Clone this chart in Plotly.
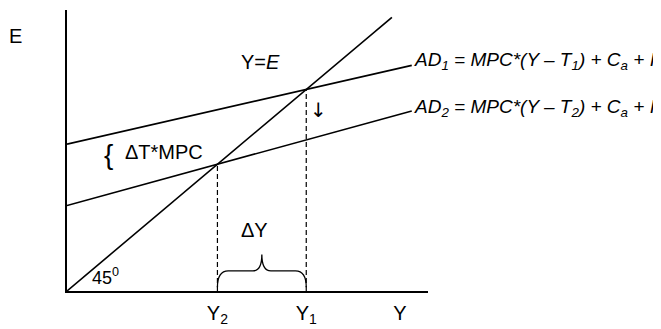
import plotly.graph_objects as go

# Keynesian cross: a tax rise shifts AD down (AD1 -> AD2)
line_x = [0.0, 9.55]
ad1_y = [4.83, 7.42]
ad2_y = [2.81, 5.92]
diag_x = [0.0, 9.0]
diag_y = [0.0, 9.0]

tick_vals = [None, None, 9.22]  # Y2 and Y1 filled in from the intersections
tick_text = ["Y<sub>2</sub>", "Y<sub>1</sub>", "Y"]


def meet_diagonal(ys):
    # where an AD line crosses the 45 degree line
    slope = (ys[1] - ys[0]) / (line_x[1] - line_x[0])
    x = ys[0] / (1 - slope)
    return x, ys[0] + slope * x


y1, e1 = meet_diagonal(ad1_y)
y2, e2 = meet_diagonal(ad2_y)
tick_vals[0], tick_vals[1] = y2, y1

black = dict(color="black", width=1.6)
fig = go.Figure()
fig.add_trace(go.Scatter(x=line_x, y=ad1_y, mode="lines", line=black))
fig.add_trace(go.Scatter(x=line_x, y=ad2_y, mode="lines", line=black))
fig.add_trace(go.Scatter(x=diag_x, y=diag_y, mode="lines", line=black))
for xv, ev in [(y1, e1), (y2, e2)]:
    fig.add_trace(go.Scatter(x=[xv, xv], y=[0, ev], mode="lines",
                             line=dict(color="black", width=1.2, dash="5px,3px")))

# curly brace under the dashed lines
mid = (y1 + y2) / 2
lo, hz, tip = 0.12, 0.66, 1.2
brace = (f"M {y2},{lo} Q {y2},{hz} {y2 + 0.3},{hz} L {mid - 0.25},{hz} "
         f"Q {mid},{hz} {mid},{tip} Q {mid},{hz} {mid + 0.25},{hz} "
         f"L {y1 - 0.3},{hz} Q {y1},{hz} {y1},{lo}")
fig.add_shape(type="path", path=brace, xref="x", yref="y",
              line=dict(color="black", width=1.3))

font = dict(family="Liberation Sans, Arial, sans-serif", size=20, color="black")
italic = dict(family="Liberation Sans, Arial, sans-serif", size=19, color="black")


def label(x, y, text, f=font, anchor="center"):
    fig.add_annotation(x=x, y=y, text=text, showarrow=False, font=f,
                       xanchor=anchor, yanchor="middle")


label(5.35, 7.52, "Y=<i>E</i>")
label(9.57, 7.55, "<i>AD<sub>1</sub> = MPC*(Y – T<sub>1</sub>) + C<sub>a</sub> + I</i>",
      italic, "left")
label(9.57, 6.02, "<i>AD<sub>2</sub> = MPC*(Y – T<sub>2</sub>) + C<sub>a</sub> + I</i>",
      italic, "left")
label(6.97, 5.96, "↓", dict(font, family="DejaVu Sans", size=20))
label(2.69, 4.56, "ΔT*MPC")
label(1.16, 4.5, "{", dict(font, size=28))
label(5.2, 1.99, "ΔY")
label(1.08, 0.49, "45<sup>0</sup>", dict(font, size=18))
fig.add_annotation(x=-0.144, y=0.907, xref="paper", yref="paper", text="E",
                   showarrow=False, font=font, xanchor="center", yanchor="middle")

# the page body has an 8px margin, so the figure is shrunk and shifted to fit
fig.update_layout(
    width=653, height=321,
    margin=dict(l=59, r=233, t=2, b=17),
    plot_bgcolor="white", paper_bgcolor="white",
    showlegend=False,
    xaxis=dict(range=[0, 10], showgrid=False, zeroline=False, showline=True,
               linecolor="black", linewidth=1.5, tickvals=tick_vals, ticktext=tick_text,
               ticks="", tickfont=font, ticklabelstandoff=3),
    yaxis=dict(range=[0, 9.24], showgrid=False, zeroline=False, showline=True,
               linecolor="black", linewidth=1.5, showticklabels=False, ticks=""),
)
fig.write_html("out.html")
